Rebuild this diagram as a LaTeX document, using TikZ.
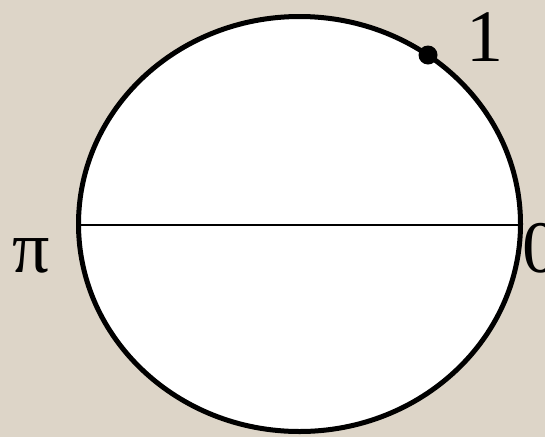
\documentclass[tikz,border=0pt]{standalone}
\usepackage{fontspec}
\setmainfont{Liberation Serif}
\definecolor{bg}{HTML}{DDD5C8}
\begin{document}
\begin{tikzpicture}[x=1pt,y=-1pt,
  rim/.style={draw=black,line width=5pt,fill=white},
  label/.style={font=\fontsize{74}{74}\selectfont,anchor=base,inner sep=0pt}]
\fill[bg] (0,0) rectangle (545,437);
\useasboundingbox (0,0) rectangle (545,437);
\draw[rim] (299.5,224) ellipse [x radius=221, y radius=207.5];
\coordinate (W) at (78.5,225);
\coordinate (E) at (520.5,225);
\draw[line width=1.5pt] (W) -- (E);
\fill (428,55) circle (9.5) coordinate (P);
\node[label] (one) at (485,61) {1};
\node[label] (pi) at (31,272) {π};
\node[label] (zero) at (541,272) {0};
\end{tikzpicture}
\end{document}
